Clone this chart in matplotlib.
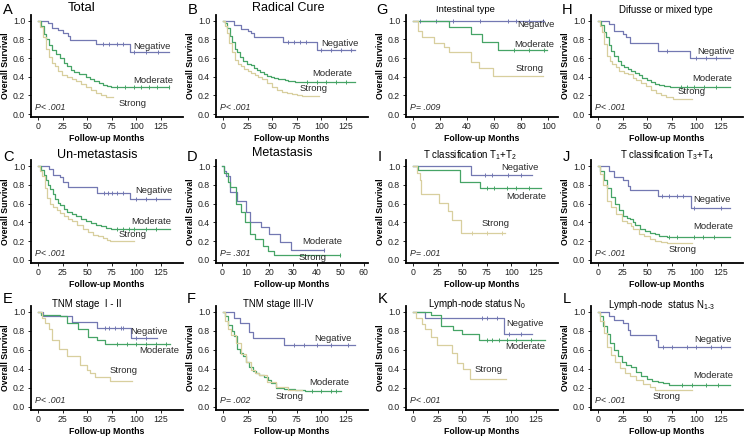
import numpy as np
import matplotlib
matplotlib.use('Agg')
import matplotlib.pyplot as plt

plt.rcParams['font.family'] = ['Liberation Sans', 'DejaVu Sans']
plt.rcParams['mathtext.fontset'] = 'custom'
plt.rcParams['mathtext.rm'] = 'Liberation Sans'
plt.rcParams['mathtext.it'] = 'Liberation Sans:italic'

# ---------------- data ----------------
A_neg_t = [0, 10, 14, 20, 25, 30, 32, 59, 93, 133]
A_neg_s = [1.0, 0.97, 0.92, 0.90, 0.87, 0.84, 0.79, 0.75, 0.66, 0.66]
A_neg_c = [66, 72, 80, 86, 97, 110, 122]
A_mod_t = [0, 3, 6, 8, 11, 14, 18, 22, 26, 29, 33, 37, 42, 49, 53, 57, 62, 66, 70, 74, 133]
A_mod_s = [1.0, 0.94, 0.86, 0.80, 0.74, 0.69, 0.64, 0.60, 0.55, 0.51, 0.47, 0.45, 0.43, 0.40, 0.37, 0.35, 0.33, 0.31, 0.30, 0.285, 0.285]
A_mod_c = [80, 88, 97, 105, 113, 121, 133]
A_str_t = [0, 2, 5, 8, 11, 14, 17, 20, 24, 29, 34, 39, 44, 49, 54, 59, 64, 69, 76]
A_str_s = [1.0, 0.93, 0.82, 0.70, 0.61, 0.55, 0.51, 0.46, 0.42, 0.40, 0.37, 0.35, 0.32, 0.29, 0.26, 0.23, 0.20, 0.18, 0.18]

B_neg_t = [0, 11, 18, 25, 28, 31, 61, 95, 134]
B_neg_s = [1.0, 0.95, 0.91, 0.89, 0.87, 0.83, 0.77, 0.69, 0.69]
B_neg_c = [66, 72, 78, 84, 100, 110, 120, 130]
B_mod_t = [0, 2, 4, 7, 9, 12, 14, 17, 20, 24, 28, 31, 34, 38, 42, 45, 49, 52, 56, 59, 63, 66, 70, 73, 79, 134]
B_mod_s = [1.0, 0.97, 0.92, 0.84, 0.77, 0.70, 0.66, 0.61, 0.57, 0.54, 0.52, 0.49, 0.47, 0.45, 0.43, 0.41, 0.40, 0.39, 0.38, 0.37, 0.36, 0.355, 0.35, 0.345, 0.34, 0.34]
B_mod_c = [85, 95, 105, 115, 125]
B_str_t = [0, 2, 4, 6, 9, 12, 15, 18, 21, 25, 28, 32, 35, 40, 45, 50, 55, 60, 65, 70, 75, 80, 97]
B_str_s = [1.0, 0.94, 0.87, 0.76, 0.66, 0.58, 0.54, 0.51, 0.48, 0.46, 0.44, 0.42, 0.40, 0.37, 0.33, 0.29, 0.26, 0.24, 0.22, 0.21, 0.20, 0.19, 0.19]

G_neg_t = [0, 97]
G_neg_s = [1.0, 1.0]
G_neg_c = [5, 17, 30, 50, 70, 76, 86, 96]
G_mod_t = [0, 27, 43, 51, 63, 99]
G_mod_s = [1.0, 0.935, 0.86, 0.77, 0.69, 0.69]
G_mod_c = [75, 86, 97]
G_str_t = [0, 4, 7, 16, 23, 27, 43, 49, 59, 96]
G_str_s = [1.0, 0.89, 0.82, 0.76, 0.72, 0.66, 0.56, 0.49, 0.41, 0.41]

H_neg_t = [0, 11, 16, 25, 28, 32, 61, 93, 134]
H_neg_s = [1.0, 0.96, 0.89, 0.86, 0.83, 0.76, 0.68, 0.60, 0.60]
H_neg_c = [70, 100, 110, 120]
H_mod_t = [0, 3, 6, 8, 11, 13, 16, 20, 23, 26, 30, 33, 38, 42, 45, 50, 54, 58, 62, 67, 73, 134]
H_mod_s = [1.0, 0.95, 0.88, 0.82, 0.74, 0.68, 0.62, 0.57, 0.53, 0.50, 0.48, 0.46, 0.44, 0.42, 0.39, 0.36, 0.34, 0.32, 0.31, 0.30, 0.29, 0.29]
H_mod_c = [84, 90, 97, 108, 120]
H_str_t = [0, 2, 4, 6, 9, 12, 14, 18, 21, 26, 30, 35, 39, 44, 49, 54, 59, 64, 69, 76, 95]
H_str_s = [1.0, 0.94, 0.88, 0.75, 0.62, 0.57, 0.54, 0.50, 0.46, 0.44, 0.43, 0.39, 0.36, 0.33, 0.30, 0.26, 0.23, 0.20, 0.18, 0.16, 0.16]

C_neg_t = [0, 11, 15, 22, 25, 30, 60, 93, 134]
C_neg_s = [1.0, 0.97, 0.90, 0.88, 0.83, 0.78, 0.71, 0.645, 0.645]
C_neg_c = [67, 71, 75, 80, 86, 100, 110, 120]
C_mod_t = [0, 3, 6, 8, 10, 12, 15, 17, 20, 22, 26, 29, 34, 39, 44, 49, 54, 59, 64, 69, 74, 78, 134]
C_mod_s = [1.0, 0.96, 0.90, 0.85, 0.80, 0.76, 0.70, 0.65, 0.61, 0.58, 0.54, 0.51, 0.49, 0.47, 0.44, 0.41, 0.39, 0.37, 0.36, 0.34, 0.335, 0.33, 0.33]
C_mod_c = [80, 86, 92, 98, 110, 120]
C_str_t = [0, 2, 4, 7, 9, 12, 15, 19, 22, 26, 30, 34, 40, 46, 51, 56, 61, 66, 70, 73, 97]
C_str_s = [1.0, 0.95, 0.89, 0.77, 0.66, 0.60, 0.56, 0.53, 0.50, 0.47, 0.44, 0.41, 0.37, 0.33, 0.30, 0.27, 0.25, 0.23, 0.21, 0.20, 0.20]

D_mod_t = [0, 0.6, 1.7, 3.2, 6.4, 10.3, 11.7, 16.3, 20, 24.6, 29, 43]
D_mod_s = [1.0, 0.95, 0.89, 0.72, 0.63, 0.51, 0.40, 0.35, 0.28, 0.19, 0.11, 0.11]
D_str_t = [0, 1, 2.4, 3.2, 6, 8.2, 9.6, 11.7, 13.9, 17.5, 19.6, 21.8, 50]
D_str_s = [1.0, 0.93, 0.83, 0.78, 0.60, 0.51, 0.40, 0.28, 0.22, 0.15, 0.10, 0.05, 0.05]

I_neg_t = [0, 59, 121]
I_neg_s = [1.0, 0.905, 0.905]
I_neg_c = [73, 80, 96, 110]
I_mod_t = [0, 5, 48, 68, 130]
I_mod_s = [1.0, 0.955, 0.835, 0.77, 0.77]
I_mod_c = [75, 82, 95, 105, 118]
I_str_t = [0, 4, 7, 8, 26, 35, 40, 49, 93]
I_str_s = [1.0, 0.93, 0.85, 0.70, 0.61, 0.52, 0.43, 0.29, 0.29]

J_neg_t = [0, 11, 16, 25, 30, 32, 61, 94, 134]
J_neg_s = [1.0, 0.95, 0.88, 0.85, 0.79, 0.74, 0.68, 0.55, 0.55]
J_neg_c = [65, 72, 80, 86, 97, 125]
J_mod_t = [0, 2, 6, 9, 13, 17, 21, 25, 29, 32, 35, 38, 43, 48, 53, 58, 62, 66, 70, 134]
J_mod_s = [1.0, 0.95, 0.85, 0.77, 0.67, 0.60, 0.53, 0.47, 0.45, 0.44, 0.40, 0.37, 0.33, 0.31, 0.29, 0.28, 0.26, 0.25, 0.245, 0.245]
J_mod_c = [72, 80, 97, 107, 118]
J_str_t = [0, 2, 5, 9, 13, 18, 24, 29, 33, 36, 42, 47, 53, 58, 64, 70, 95]
J_str_s = [1.0, 0.92, 0.80, 0.63, 0.56, 0.49, 0.42, 0.39, 0.36, 0.33, 0.28, 0.25, 0.22, 0.20, 0.19, 0.18, 0.18]

E_neg_t = [0, 5, 34, 60, 94, 121]
E_neg_s = [1.0, 0.955, 0.895, 0.825, 0.72, 0.72]
E_neg_c = [68, 72, 78, 84, 86, 100, 110]
E_mod_t = [0, 3, 22, 29, 41, 51, 60, 68, 134]
E_mod_s = [1.0, 0.97, 0.955, 0.88, 0.82, 0.73, 0.70, 0.66, 0.66]
E_mod_c = [80, 90, 100, 110, 120, 130]
E_str_t = [0, 4, 7, 11, 14, 21, 29, 43, 50, 53, 58, 73, 95]
E_str_s = [1.0, 0.93, 0.88, 0.82, 0.70, 0.61, 0.53, 0.44, 0.39, 0.35, 0.31, 0.27, 0.27]

F_neg_t = [0, 11, 17, 26, 30, 62, 134]
F_neg_s = [1.0, 0.93, 0.88, 0.79, 0.72, 0.65, 0.65]
F_neg_c = [72, 82, 95, 110, 127]
F_mod_t = [0, 2, 5, 9, 11, 14, 17, 20, 23, 26, 30, 33, 37, 42, 46, 49, 54, 62, 73, 83, 120]
F_mod_s = [1.0, 0.95, 0.86, 0.80, 0.74, 0.61, 0.57, 0.53, 0.47, 0.42, 0.38, 0.35, 0.33, 0.31, 0.28, 0.25, 0.20, 0.19, 0.18, 0.17, 0.17]
F_mod_c = [90, 100, 110, 115]
F_str_t = [0, 2, 5, 8, 13, 18, 23, 28, 32, 37, 45, 54, 66, 80]
F_str_s = [1.0, 0.90, 0.82, 0.75, 0.67, 0.56, 0.47, 0.39, 0.36, 0.33, 0.26, 0.21, 0.18, 0.18]

K_neg_t = [0, 12, 92, 121]
K_neg_s = [1.0, 0.93, 0.77, 0.77]
K_neg_c = [70, 75, 85, 98, 110]
K_mod_t = [0, 18, 28, 41, 50, 67, 134]
K_mod_s = [1.0, 0.965, 0.85, 0.81, 0.77, 0.70, 0.70]
K_mod_c = [75, 80, 87, 95, 105, 120]
K_str_t = [0, 3, 9, 12, 18, 24, 40, 45, 51, 58, 94]
K_str_s = [1.0, 0.93, 0.87, 0.82, 0.73, 0.65, 0.57, 0.46, 0.40, 0.29, 0.29]

L_neg_t = [0, 11, 16, 25, 30, 32, 59, 61, 134]
L_neg_s = [1.0, 0.95, 0.91, 0.88, 0.81, 0.75, 0.70, 0.63, 0.63]
L_neg_c = [66, 75, 90, 100, 115, 125]
L_mod_t = [0, 2, 5, 9, 12, 16, 20, 24, 28, 33, 39, 44, 50, 55, 61, 66, 72, 134]
L_mod_s = [1.0, 0.95, 0.85, 0.77, 0.67, 0.60, 0.53, 0.47, 0.44, 0.42, 0.37, 0.32, 0.29, 0.27, 0.26, 0.245, 0.23, 0.23]
L_mod_c = [85, 95, 110, 122]
L_str_t = [0, 2, 6, 9, 13, 17, 22, 27, 32, 39, 46, 53, 58, 95]
L_str_s = [1.0, 0.90, 0.78, 0.63, 0.54, 0.47, 0.41, 0.35, 0.32, 0.28, 0.24, 0.21, 0.18, 0.18]

letters = ['A', 'B', 'G', 'H', 'C', 'D', 'I', 'J', 'E', 'F', 'K', 'L']
titles = ['Total', 'Radical Cure', 'Intestinal type', 'Difusse or mixed type',
          'Un-metastasis', 'Metastasis', 'T classification T$_1$+T$_2$', 'T classification T$_3$+T$_4$',
          'TNM stage  I - II', 'TNM stage III-IV', 'Lymph-node status N$_0$', 'Lymph-node  status N$_{1\\text{-}3}$']
p_texts = ['P< .001', 'P< .001', 'P= .009', 'P< .001',
           'P< .001', 'P= .301', 'P= .001', 'P< .001',
           'P< .001', 'P= .002', 'P< .001', 'P< .001']

# ---------------- style / layout ----------------
NEG = '#7378b2'
MOD = '#46a466'
STR = '#d8cf9e'
W, H = 750, 440
fig = plt.figure(figsize=(7.5, 4.4), dpi=100)

col_left = [30.7, 215.7, 405.7, 590.7]
ax_w = 152
row_top = [15.1, 160.4, 306]
row_bot = [116.8, 262.8, 409.6]
letter_xy = [(3, 3), (188, 3), (376, 3), (562, 3),
             (3, 150), (187, 150), (378, 150), (563, 150),
             (3, 292), (187, 292), (378, 292), (563, 292)]
title_xy = [(82, 8), (288, 8), (465, 9), (666, 10),
            (97, 155), (282, 153), (470, 155), (667, 155),
            (87, 304), (278, 304), (477, 304), (662, 305)]
title_fs = [9.5, 9, 6.8, 7, 9, 9, 7, 7, 7, 7, 7, 7]

X125 = dict(xlim=(-7.5, 147), xticks=[0, 25, 50, 75, 100, 125])
panels = [
    dict(X125, curves=[(A_neg_t, A_neg_s, A_neg_c, NEG), (A_mod_t, A_mod_s, A_mod_c, MOD), (A_str_t, A_str_s, [], STR)],
         labels=[('Negative', 97, 0.72), ('Moderate', 97, 0.36), ('Strong', 82, 0.11)]),
    dict(X125, curves=[(B_neg_t, B_neg_s, B_neg_c, NEG), (B_mod_t, B_mod_s, B_mod_c, MOD), (B_str_t, B_str_s, [], STR)],
         labels=[('Negative', 100, 0.76), ('Moderate', 91, 0.43), ('Strong', 78, 0.27)]),
    dict(xlim=(-5.2, 107), xticks=[0, 20, 40, 60, 80, 100],
         curves=[(G_neg_t, G_neg_s, G_neg_c, NEG), (G_mod_t, G_mod_s, G_mod_c, MOD), (G_str_t, G_str_s, [], STR)],
         labels=[('Negative', 77, 0.96), ('Moderate', 75, 0.75), ('Strong', 76, 0.49)]),
    dict(X125, curves=[(H_neg_t, H_neg_s, H_neg_c, NEG), (H_mod_t, H_mod_s, H_mod_c, MOD), (H_str_t, H_str_s, [], STR)],
         labels=[('Negative', 101, 0.67), ('Moderate', 96, 0.38), ('Strong', 81, 0.24)]),
    dict(X125, curves=[(C_neg_t, C_neg_s, C_neg_c, NEG), (C_mod_t, C_mod_s, C_mod_c, MOD), (C_str_t, C_str_s, [], STR)],
         labels=[('Negative', 99, 0.74), ('Moderate', 95, 0.41), ('Strong', 82, 0.27)]),
    dict(xlim=(-2.7, 61.6), xticks=[0, 10, 20, 30, 40, 50, 60],
         curves=[(D_mod_t, D_mod_s, [43], NEG), (D_str_t, D_str_s, [50], MOD)],
         labels=[('Moderate', 34, 0.20), ('Strong', 32.5, 0.025)]),
    dict(X125, curves=[(I_neg_t, I_neg_s, I_neg_c, NEG), (I_mod_t, I_mod_s, I_mod_c, MOD), (I_str_t, I_str_s, [60, 75, 90], STR)],
         labels=[('Negative', 90, 0.98), ('Moderate', 95, 0.68), ('Strong', 70, 0.39)]),
    dict(X125, curves=[(J_neg_t, J_neg_s, J_neg_c, NEG), (J_mod_t, J_mod_s, J_mod_c, MOD), (J_str_t, J_str_s, [], STR)],
         labels=[('Negative', 97, 0.64), ('Moderate', 97, 0.36), ('Strong', 72, 0.11)]),
    dict(X125, curves=[(E_neg_t, E_neg_s, E_neg_c, NEG), (E_mod_t, E_mod_s, E_mod_c, MOD), (E_str_t, E_str_s, [], STR)],
         labels=[('Negative', 94, 0.79), ('Moderate', 103, 0.59), ('Strong', 73, 0.38)]),
    dict(X125, curves=[(F_neg_t, F_neg_s, F_neg_c, NEG), (F_mod_t, F_mod_s, F_mod_c, MOD), (F_str_t, F_str_s, [], STR)],
         labels=[('Negative', 93, 0.72), ('Moderate', 88, 0.25), ('Strong', 53, 0.11)]),
    dict(X125, curves=[(K_neg_t, K_neg_s, K_neg_c, NEG), (K_mod_t, K_mod_s, K_mod_c, MOD), (K_str_t, K_str_s, [], STR)],
         labels=[('Negative', 95, 0.88), ('Moderate', 94, 0.63), ('Strong', 63, 0.39)]),
    dict(X125, curves=[(L_neg_t, L_neg_s, L_neg_c, NEG), (L_mod_t, L_mod_s, L_mod_c, MOD), (L_str_t, L_str_s, [], STR)],
         labels=[('Negative', 98, 0.71), ('Moderate', 97, 0.33), ('Strong', 55, 0.11)]),
]

for i, p in enumerate(panels):
    row, col = divmod(i, 4)
    l = col_left[col] / W
    b = 1 - row_bot[row] / H
    h = (row_bot[row] - row_top[row]) / H
    ax = fig.add_axes([l, b, ax_w / W, h])
    for t, s, c, color in p['curves']:
        t = np.asarray(t, float); s = np.asarray(s, float)
        ax.step(t, s, where='post', color=color, lw=0.9)
        if len(c):
            c = np.asarray(c, float)
            cy = s[np.clip(np.searchsorted(t, c, side='right') - 1, 0, len(s) - 1)]
            ax.plot(c, cy, ls='none', marker='|', ms=2.6, mew=0.7, color=color)
    for txt, x, y in p['labels']:
        ax.text(x, y, txt, fontsize=6.8, color='#2a2a2a', ha='left', va='center')
    ax.text(p['xlim'][0] + 0.03 * (p['xlim'][1] - p['xlim'][0]), 0.07, p_texts[i],
            fontsize=6.3, style='italic', color='#2a2a2a', ha='left', va='center')
    ax.set_xlim(*p['xlim'])
    ax.set_ylim(-0.03, 1.06)
    ax.set_xticks(p['xticks'])
    ax.set_yticks([0, 0.2, 0.4, 0.6, 0.8, 1.0])
    ax.set_yticklabels(['0.0', '0.2', '0.4', '0.6', '0.8', '1.0'])
    for sp in ['top', 'right']:
        ax.spines[sp].set_visible(False)
    for sp in ['left', 'bottom']:
        ax.spines[sp].set_linewidth(1.3)
    ax.tick_params(direction='out', length=2.5, width=0.7, labelsize=6.3, pad=1.5, colors='#222222')
    ax.set_xlabel('Follow-up Months', fontsize=6.3, fontweight='bold', labelpad=2)
    ax.set_ylabel('Overall Survival', fontsize=6.3, fontweight='bold', labelpad=2)

    lx, ly = letter_xy[i]
    fig.text(lx / W, 1 - ly / H, letters[i], fontsize=10.5, ha='left', va='top')
    tx, ty = title_xy[i]
    fig.text(tx / W, 1 - ty / H, titles[i], fontsize=title_fs[i], ha='center', va='center')

fig.savefig('out.png', dpi=100)
